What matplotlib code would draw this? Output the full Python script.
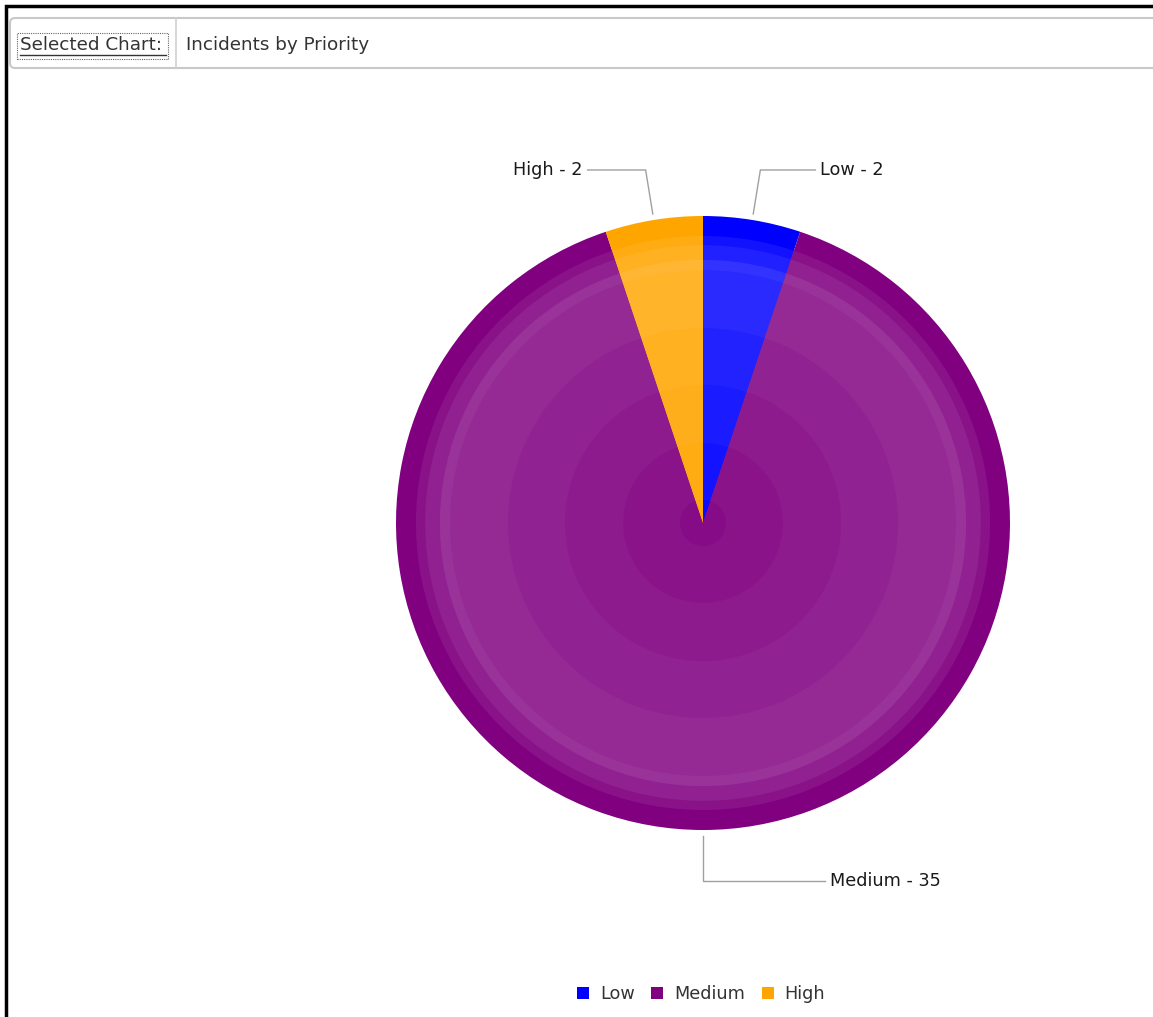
import numpy as np
import matplotlib
matplotlib.use("Agg")
import matplotlib.pyplot as plt
from matplotlib.patches import FancyBboxPatch, Patch, Rectangle
from matplotlib.colors import to_rgb

# chart data
priorities = ["Low", "Medium", "High"]
counts = [2, 35, 2]
colors = ["#0000ff", "#800080", "#ffa500"]

W, H = 1153, 1017
cx, cy, R = 703, H - 523, 307

# radial shading bands: (radius fraction, amount of white mixed in)
bands = [(1.0, 0.0), (0.935, 0.07), (0.905, 0.13), (0.857, 0.2),
         (0.824, 0.165), (0.635, 0.135), (0.45, 0.105), (0.26, 0.075), (0.075, 0.045)]
leader_len = [55, 122, 58]


def tint(c, k):
    rgb = np.array(to_rgb(c))
    return tuple(rgb + (1 - rgb) * k)


fig = plt.figure(figsize=(W / 100, H / 100), dpi=100)
ax = fig.add_axes([0, 0, 1, 1])

outer = None
for frac, k in bands:
    wedges, _ = ax.pie(counts, colors=[tint(c, k) for c in colors], startangle=90,
                       counterclock=False, radius=R * frac, center=(cx, cy),
                       wedgeprops=dict(linewidth=0))
    if outer is None:
        outer = wedges

ax.set_xlim(0, W)
ax.set_ylim(0, H)
ax.set_aspect("auto")
ax.axis("off")

# slice labels with elbow leader lines
for w, name, n, ln in zip(outer, priorities, counts, leader_len):
    ang = np.deg2rad((w.theta1 + w.theta2) / 2)
    c, s = np.cos(ang), np.sin(ang)
    side = 1 if c > -0.01 else -1
    x0, y0 = cx + R * 1.02 * c, cy + R * 1.02 * s
    x1, y1 = cx + R * 1.165 * c, cy + R * 1.165 * s
    x2 = x1 + side * ln
    ax.plot([x0, x1, x2], [y0, y1, y1], color="#a0a0a0", lw=1, solid_joinstyle="miter")
    ax.text(x2 + side * 5, y1, f"{name} - {n}", ha="left" if side > 0 else "right",
            va="center", fontsize=12.7, color="#1a1a1a", family="DejaVu Sans")

# legend
handles = [Patch(facecolor=c, edgecolor="none") for c in colors]
fig.legend(handles, priorities, loc="center", bbox_to_anchor=(701 / W, 1 - 994 / H),
           ncol=3, frameon=False, handlelength=0.68, handleheight=0.68,
           handletextpad=0.6, columnspacing=0.95, fontsize=12.7,
           labelcolor="#333333")

# header bar
hdr = FancyBboxPatch((10, H - 68), 1170, 50, boxstyle="round,pad=0,rounding_size=5",
                     facecolor="white", edgecolor="#c8c8c8", lw=1.5)
ax.add_patch(hdr)
ax.plot([176, 176], [H - 68, H - 18], color="#d0d0d0", lw=1.2)
ax.text(20, H - 45, "Selected Chart:", ha="left", va="center", fontsize=13.2,
        color="#333333", family="DejaVu Sans")
ax.plot([20, 166], [H - 55, H - 55], color="#333333", lw=1)
ax.add_patch(Rectangle((17, H - 59), 151, 26, fill=False, ec="#666666", lw=0.8, ls=(0, (1, 1))))
ax.text(186, H - 45, "Incidents by Priority", ha="left", va="center", fontsize=13.2,
        color="#333333", family="DejaVu Sans")

# window frame
ax.plot([6, 6, W], [0, H - 6, H - 6], color="black", lw=2.5, solid_joinstyle="miter")

fig.savefig("out.png", dpi=100)
